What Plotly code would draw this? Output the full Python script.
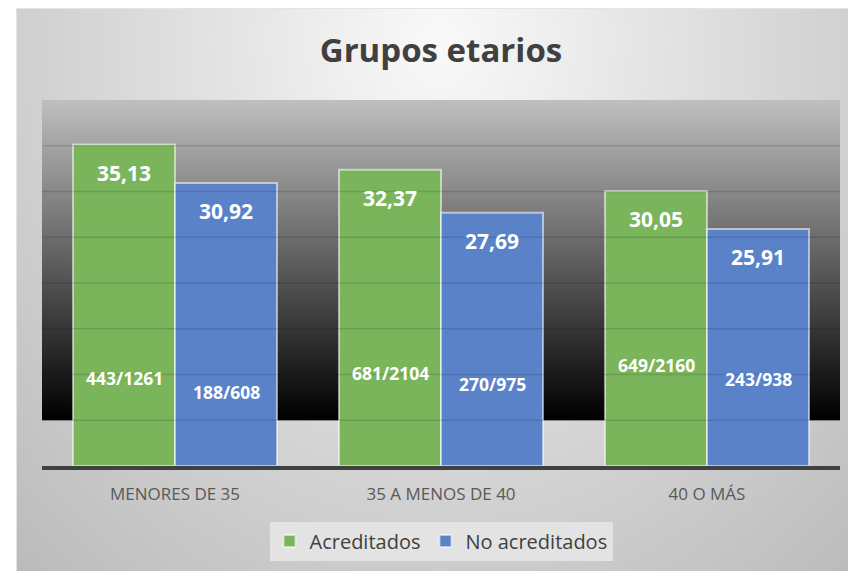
import base64
import struct
import zlib

import plotly.graph_objects as go

# ---------------- data ----------------
categories = ["MENORES DE 35", "35 A MENOS DE 40", "40 O MÁS"]
series_names = ["Acreditados", "No acreditados"]
acreditados = [35.13, 32.37, 30.05]
no_acreditados = [30.92, 27.69, 25.91]
ratio_acreditados = ["443/1261", "681/2104", "649/2160"]
ratio_no_acreditados = ["188/608", "270/975", "243/938"]

# ---------------- style / layout constants ----------------
W, H = 856, 571
OFF = 8  # page body margin: figure is drawn 8px right/down in the window
# target screen positions (window pixels) -> figure pixels
PLOT_LEFT, PLOT_RIGHT, PLOT_TOP, PLOT_BOTTOM = 42 - OFF, 840 - OFF, 100 - OFF, 466 - OFF
L, R, T, B = PLOT_LEFT, W - PLOT_RIGHT, PLOT_TOP, H - PLOT_BOTTOM
GREEN = "#7ab55c"
BLUE = "#5a82c9"
FONT = "Open Sans"
Y_MAX = 40
GRID_STEP = 5
# vertical positions (axis units) of the ratio labels inside the bars
ratio_pos_green = [9.6, 10.15, 11.0]
ratio_pos_blue = [8.1, 9.0, 9.5]


def png_uri(w, h, fn):
    rows = bytearray()
    for j in range(h):
        rows.append(0)
        for i in range(w):
            rows += bytes(fn(i, j))

    def chunk(t, d):
        return (struct.pack(">I", len(d)) + t + d
                + struct.pack(">I", zlib.crc32(t + d) & 0xFFFFFFFF))

    png = (b"\x89PNG\r\n\x1a\n"
           + chunk(b"IHDR", struct.pack(">IIBBBBB", w, h, 8, 2, 0, 0, 0))
           + chunk(b"IDAT", zlib.compress(bytes(rows), 9))
           + chunk(b"IEND", b""))
    return "data:image/png;base64," + base64.b64encode(png).decode()


# outer frame: soft radial gray gradient (screen coords 16..856, 8..571)
FX0, FY0 = 16 - OFF, 8 - OFF
FX1, FY1 = W, H
fw, fh = 168, 113


def frame_px(i, j):
    px = FX0 + OFF + (i + 0.5) * (FX1 - FX0) / fw
    py = FY0 + OFF + (j + 0.5) * (FY1 - FY0) / fh
    d = (((px - 440) / 450) ** 2 + ((py - 40) / 520) ** 2) ** 0.5
    v = int(max(185, min(250, 250 - 45 * d)))
    return (v, v, v)


frame_img = png_uri(fw, fh, frame_px)


# dark plot-area gradient (gray at top to black at bottom)
def dark_px(i, j):
    t = (j + 0.5) / 64
    v = int(192 * (1 - t))
    return (v, v, v)


dark_img = png_uri(2, 64, dark_px)

plot_w = W - L - R
plot_h = H - T - B


def to_paper_x(px):
    return (px - L) / plot_w


def to_paper_y(py):
    return (H - B - py) / plot_h


fig = go.Figure()
fig.add_trace(go.Bar(
    x=categories, y=acreditados, name=series_names[0],
    marker=dict(color=GREEN, line=dict(color="rgba(255,255,255,0.55)", width=2)),
    hoverinfo="skip",
))
fig.add_trace(go.Bar(
    x=categories, y=no_acreditados, name=series_names[1],
    marker=dict(color=BLUE, line=dict(color="rgba(255,255,255,0.55)", width=2)),
    hoverinfo="skip",
))

# gridlines drawn above bars (as in the reference)
shapes = []
for v in range(GRID_STEP, Y_MAX, GRID_STEP):
    shapes.append(dict(type="line", xref="paper", x0=0, x1=1, yref="y", y0=v, y1=v,
                       line=dict(color="rgba(0,0,0,0.13)", width=1.5), layer="above"))
# thin light edge of the frame
shapes.append(dict(type="rect", xref="paper", yref="paper",
                   x0=to_paper_x(FX0 + 0.5), x1=to_paper_x(W + 5),
                   y0=to_paper_y(H + 5), y1=to_paper_y(FY0 + 0.5),
                   line=dict(color="#e4e4e4", width=1), layer="below"))

annotations = []
bar_shift = 51
fmt = lambda v: f"{v:.2f}".replace(".", ",")
for i, cat in enumerate(categories):
    for vals, shift in ((acreditados, -bar_shift), (no_acreditados, bar_shift)):
        annotations.append(dict(
            x=cat, y=vals[i], xref="x", yref="y", xshift=shift, yshift=-28,
            text=f"<b>{fmt(vals[i])}</b>", showarrow=False,
            font=dict(family=FONT, size=21, color="white"),
            xanchor="center", yanchor="middle"))
    annotations.append(dict(
        x=cat, y=ratio_pos_green[i], xref="x", yref="y", xshift=-bar_shift,
        text=f"<b>{ratio_acreditados[i]}</b>", showarrow=False,
        font=dict(family=FONT, size=17.5, color="white"),
        xanchor="center", yanchor="middle"))
    annotations.append(dict(
        x=cat, y=ratio_pos_blue[i], xref="x", yref="y", xshift=bar_shift,
        text=f"<b>{ratio_no_acreditados[i]}</b>", showarrow=False,
        font=dict(family=FONT, size=17.5, color="white"),
        xanchor="center", yanchor="middle"))

images = [
    dict(source=frame_img, xref="paper", yref="paper",
         x=to_paper_x(FX0), y=to_paper_y(FY0),
         sizex=(FX1 - FX0) / plot_w, sizey=(FY1 - FY0) / plot_h,
         sizing="stretch", xanchor="left", yanchor="top", layer="below"),
    dict(source=dark_img, xref="paper", yref="y",
         x=0, y=Y_MAX, sizex=1, sizey=Y_MAX - GRID_STEP,
         sizing="stretch", xanchor="left", yanchor="top", layer="below"),
]

fig.update_layout(
    width=W, height=H,
    margin=dict(l=L, r=R, t=T, b=B),
    paper_bgcolor="white",
    plot_bgcolor="rgba(0,0,0,0)",
    barmode="group", bargap=0.233, bargroupgap=0,
    separators=",.",
    title=dict(text="<b>Grupos etarios</b>", x=0.5, xref="paper", xanchor="center",
               y=1 - (50 - OFF) / H, yref="container", yanchor="middle",
               font=dict(family=FONT, size=33, color="#404040")),
    xaxis=dict(showline=True, linecolor="#404040", linewidth=3.5,
               showgrid=False, ticks="", ticklabelstandoff=10,
               tickfont=dict(family=FONT, size=17, color="#595959")),
    yaxis=dict(range=[0, Y_MAX], showgrid=False, zeroline=False,
               showticklabels=False, showline=False),
    legend=dict(orientation="h", x=0.5, xanchor="center",
                y=to_paper_y(541 - OFF), yanchor="middle",
                bgcolor="#e3e3e3", font=dict(family=FONT, size=20, color="#404040"),
                itemwidth=30),
    shapes=shapes, annotations=annotations, images=images,
    showlegend=True,
)

fig.write_html("out.html")
